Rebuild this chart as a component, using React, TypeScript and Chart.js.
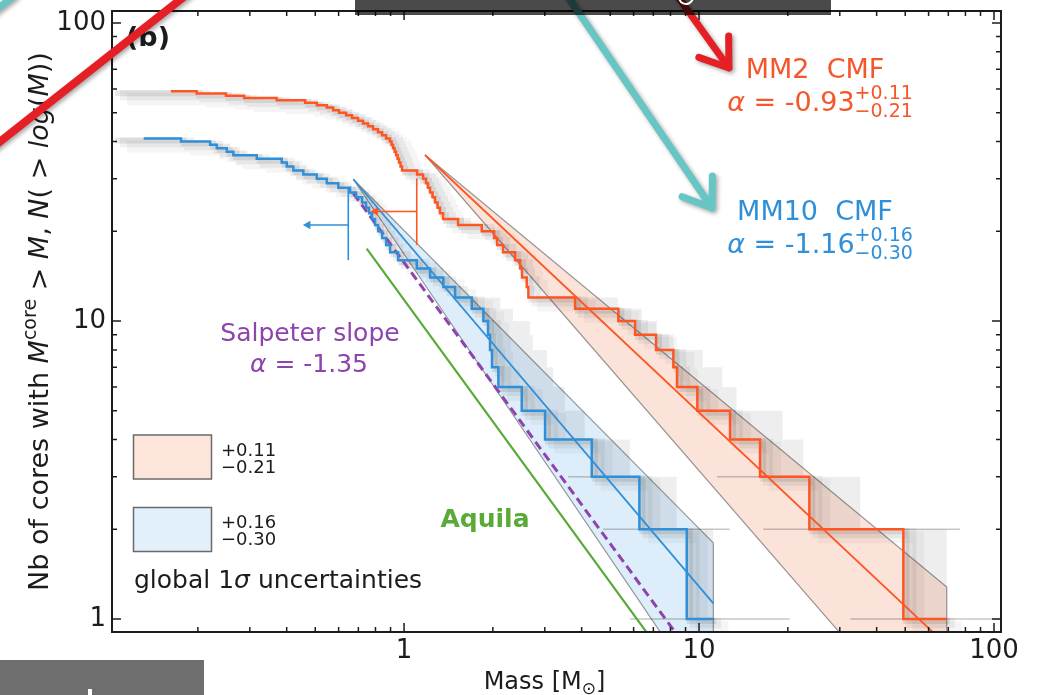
import React, { useEffect, useRef } from 'react';
import { Chart, registerables } from 'chart.js';

Chart.register(...registerables);

// ---------------- axis ranges & tick labels ----------------
const xAxisMin = 0.1023;
const xAxisMax = 105.6;
const yAxisMin = 0.9045;
const yAxisMax = 109.7;
const xTickLabels = ['1', '10', '100'];
const yTickLabels = ['1', '10', '100'];

// ---------------- MM2 cumulative core mass function ----------------
const mm2Start = 0.162;
const mm2CoreMasses = [
  0.198, 0.249, 0.287, 0.370, 0.462, 0.506, 0.547, 0.575, 0.602, 0.636,
  0.666, 0.698, 0.726, 0.755, 0.785, 0.816, 0.842, 0.869, 0.896, 0.907,
  0.918, 0.929, 0.940, 0.951, 0.962, 0.973, 0.985, 1.107, 1.160, 1.187,
  1.206, 1.225, 1.249, 1.274, 1.299, 1.324, 1.356, 1.524, 1.834, 2.019,
  2.067, 2.166, 2.378, 2.474, 2.512, 2.606, 2.639, 3.800, 5.326, 6.069,
  7.150, 8.183, 8.422, 9.868, 12.74, 16.10, 23.66, 49.27, 69.14,
];

// ---------------- MM10 cumulative core mass function ----------------
const mm10Start = 0.131;
const mm10CoreMasses = [
  0.1754, 0.2200, 0.2318, 0.2506, 0.2638, 0.3167, 0.3849, 0.4003, 0.4214, 0.4556,
  0.5059, 0.5470, 0.5987, 0.6561, 0.6877, 0.7205, 0.7434, 0.7609, 0.7791, 0.7975,
  0.8164, 0.8422, 0.8690, 0.8964, 0.9543, 1.104, 1.225, 1.359, 1.489, 1.696,
  1.857, 1.926, 1.956, 1.987, 2.088, 2.506, 3.006, 4.328, 6.277, 9.086, 11.18,
];

// ---------------- bootstrap spread (grey realisations) ----------------
const mm2EnvelopeStart = 2.639;
const mm2EnvelopeMasses = [5.3, 6.4, 7.2, 8.2, 10.3, 12.0, 13.4, 19.2, 22.6, 35.2, 76.7, 105];
const mm10EnvelopeStart = 1.489;
const mm10EnvelopeMasses = [2.12, 2.34, 2.67, 2.73, 3.05, 3.2, 3.51, 4.1, 5.83, 8.4, 12.7, 20.3];
const mm2SpreadN = [1, 2, 3, 1, 2];
const mm2SpreadFrom = [32.6, 16.5, 11.5, 69.14, 49.27];
const mm2SpreadTo = [49.27, 23.66, 16.10, 105, 76.7];
const mm10SpreadN = [1, 2, 3, 1, 2];
const mm10SpreadFrom = [5.83, 4.73, 3.6, 11.18, 9.086];
const mm10SpreadTo = [9.086, 6.277, 4.328, 20.3, 12.7];

// ---------------- power-law fits ----------------
const mm2FitMass = [1.178, 66.0];
const mm2FitN = [36.06, 0.853];
const mm10FitMass = [0.673, 11.18];
const mm10FitN = [29.9, 1.129];

// ---------------- 1-sigma uncertainty bands (closed outlines) ----------------
const mm2BandMass = [1.178, 69.14, 69.14, 50.2, 1.178];
const mm2BandN = [36.06, 1.28, 0.5, 0.5, 36.06];
const mm10BandMass = [0.673, 11.18, 11.18, 11.09, 0.673];
const mm10BandN = [29.9, 1.80, 0.5, 0.5, 29.9];

// ---------------- reference slopes ----------------
const salpeterMass = [0.673, 8.8];
const salpeterN = [26.8, 0.834];
const aquilaMass = [0.747, 7.0];
const aquilaN = [17.5, 0.84];

// ---------------- completeness markers ----------------
const mm2LimitMass = [1.104, 1.104];
const mm2LimitN = [18.0, 30.1];
const mm2ArrowMass = [1.104, 0.80];
const mm2ArrowN = [23.3, 23.3];
const mm10LimitMass = [0.647, 0.647];
const mm10LimitN = [16.0, 27.9];
const mm10ArrowMass = [0.647, 0.472];
const mm10ArrowN = [21.0, 21.0];

// ---------------- colours ----------------
const RED = '#ff5522';
const RED_TEXT = '#f4582a';
const BLUE = '#2f8fd8';
const PURPLE = '#8e44ad';
const GREEN = '#5aaa3a';
const FONT = '"DejaVu Sans", sans-serif';

function buildSteps(start: number, masses: number[]) {
  const n = masses.length;
  const pts = [{ x: start, y: n }];
  for (let i = 0; i < n - 1; i++) pts.push({ x: masses[i], y: n - 1 - i });
  pts.push({ x: masses[n - 1], y: 1 });
  return pts;
}
function zip(xs: number[], ys: number[]) {
  return xs.map((x, i) => ({ x, y: ys[i] }));
}

type Seg = { t: string; size: number; style?: string; weight?: string; dy?: number };
function fontOf(s: Seg) {
  return `${s.style || 'normal'} ${s.weight || 'normal'} ${s.size}px ${FONT}`;
}
function segsWidth(ctx: CanvasRenderingContext2D, segs: Seg[]) {
  let w = 0;
  for (const s of segs) {
    ctx.font = fontOf(s);
    w += ctx.measureText(s.t).width;
  }
  return w;
}
function drawSegs(ctx: CanvasRenderingContext2D, segs: Seg[], x: number, y: number) {
  let cx = x;
  for (const s of segs) {
    ctx.font = fontOf(s);
    ctx.fillText(s.t, cx, y + (s.dy || 0));
    cx += ctx.measureText(s.t).width;
  }
  return cx;
}
function drawAlpha(ctx: CanvasRenderingContext2D, color: string, main: string, sup: string, sub: string, cx: number, base: number, size: number) {
  ctx.fillStyle = color;
  ctx.textAlign = 'left';
  ctx.textBaseline = 'alphabetic';
  const mainSegs: Seg[] = [
    { t: 'α', size, style: 'italic' },
    { t: ' = ' + main, size },
  ];
  const small = Math.round(size * 0.7);
  const wMain = segsWidth(ctx, mainSegs);
  ctx.font = `${small}px ${FONT}`;
  const wScr = Math.max(ctx.measureText(sup).width, ctx.measureText(sub).width);
  const x0 = cx - (wMain + wScr) / 2;
  const xe = drawSegs(ctx, mainSegs, x0, base);
  ctx.font = `${small}px ${FONT}`;
  ctx.fillText(sup, xe, base - 12);
  ctx.fillText(sub, xe, base + 6);
}

function arrow(ctx: CanvasRenderingContext2D, x0: number, y0: number, x1: number, y1: number, color: string, width: number, head: boolean) {
  ctx.save();
  ctx.strokeStyle = color;
  ctx.lineWidth = width;
  ctx.lineCap = 'round';
  ctx.lineJoin = 'round';
  ctx.shadowColor = 'rgba(0,0,0,0.35)';
  ctx.shadowBlur = 4;
  ctx.shadowOffsetX = 2;
  ctx.shadowOffsetY = 2;
  ctx.beginPath();
  ctx.moveTo(x0, y0);
  ctx.lineTo(x1, y1);
  if (head) {
    const ang = Math.atan2(y1 - y0, x1 - x0);
    const L = 32;
    const a = (35 * Math.PI) / 180;
    ctx.moveTo(x1 + L * Math.cos(ang + Math.PI - a), y1 + L * Math.sin(ang + Math.PI - a));
    ctx.lineTo(x1, y1);
    ctx.lineTo(x1 + L * Math.cos(ang + Math.PI + a), y1 + L * Math.sin(ang + Math.PI + a));
  }
  ctx.stroke();
  ctx.restore();
}

const decorPlugin = {
  id: 'decor',
  beforeDatasetDraw(chart: any, args: any) {
    const ds = chart.data.datasets[args.index];
    if (ds.hazeShift) {
      chart.ctx.save();
      chart.ctx.translate(ds.hazeShift[0], ds.hazeShift[1]);
    }
  },
  afterDatasetDraw(chart: any, args: any) {
    const ds = chart.data.datasets[args.index];
    if (ds.hazeShift) chart.ctx.restore();
  },
  afterDraw(chart: any) {
    const ctx: CanvasRenderingContext2D = chart.ctx;
    const xs = chart.scales.x;
    const ys = chart.scales.y;
    const { left, right, top, bottom } = chart.chartArea;
    ctx.save();

    // frame
    ctx.strokeStyle = '#1c1c1c';
    ctx.lineWidth = 2;
    ctx.strokeRect(left, top, right - left, bottom - top);

    // inward ticks
    ctx.lineWidth = 1.5;
    ctx.beginPath();
    for (const d of [0.1, 1, 10, 100]) {
      for (let k = 1; k <= 9; k++) {
        const v = k * d;
        const len = k === 1 ? 9 : 5;
        if (v >= xAxisMin && v <= xAxisMax) {
          const px = xs.getPixelForValue(v);
          ctx.moveTo(px, bottom);
          ctx.lineTo(px, bottom - len);
          ctx.moveTo(px, top);
          ctx.lineTo(px, top + len);
        }
        if (v >= yAxisMin && v <= yAxisMax) {
          const py = ys.getPixelForValue(v);
          ctx.moveTo(left, py);
          ctx.lineTo(left + len, py);
          ctx.moveTo(right, py);
          ctx.lineTo(right - len, py);
        }
      }
    }
    ctx.stroke();

    // tick labels
    ctx.fillStyle = '#1c1c1c';
    ctx.font = `26px ${FONT}`;
    ctx.textAlign = 'center';
    ctx.textBaseline = 'middle';
    for (const l of xTickLabels) ctx.fillText(l, xs.getPixelForValue(Number(l)), bottom + 19);
    ctx.textAlign = 'right';
    for (const l of yTickLabels) ctx.fillText(l, left - 6, ys.getPixelForValue(Number(l)));

    // x title
    ctx.textAlign = 'left';
    ctx.textBaseline = 'alphabetic';
    const xt: Seg[] = [
      { t: 'Mass [M', size: 24 },
      { t: '⊙', size: 17, dy: 5 },
      { t: ']', size: 24 },
    ];
    const xcx = (left + right) / 2 - 12;
    drawSegs(ctx, xt, xcx - segsWidth(ctx, xt) / 2, 689);

    // y title
    const yt: Seg[] = [
      { t: 'Nb of cores with ', size: 27 },
      { t: 'M', size: 27, style: 'italic' },
      { t: 'core', size: 19, dy: -12 },
      { t: ' > ', size: 27 },
      { t: 'M', size: 27, style: 'italic' },
      { t: ', ', size: 27 },
      { t: 'N', size: 27, style: 'italic' },
      { t: '( > ', size: 27 },
      { t: 'log', size: 27, style: 'italic' },
      { t: '(', size: 27 },
      { t: 'M', size: 27, style: 'italic' },
      { t: '))', size: 27 },
    ];
    ctx.save();
    ctx.translate(48, (top + bottom) / 2);
    ctx.rotate(-Math.PI / 2);
    drawSegs(ctx, yt, -segsWidth(ctx, yt) / 2, 0);
    ctx.restore();

    // panel label
    ctx.font = `bold 27px ${FONT}`;
    ctx.fillText('(b)', 126, 46);

    // annotations
    ctx.textAlign = 'center';
    ctx.fillStyle = RED_TEXT;
    ctx.font = `27px ${FONT}`;
    ctx.fillText('MM2  CMF', 815, 78);
    drawAlpha(ctx, RED_TEXT, '-0.93', '+0.11', '−0.21', 820, 111, 27);
    ctx.textAlign = 'center';
    ctx.fillStyle = BLUE;
    ctx.font = `27px ${FONT}`;
    ctx.fillText('MM10  CMF', 815, 220);
    drawAlpha(ctx, BLUE, '-1.16', '+0.16', '−0.30', 820, 253, 27);

    ctx.textAlign = 'center';
    ctx.fillStyle = PURPLE;
    ctx.font = `25px ${FONT}`;
    ctx.fillText('Salpeter slope', 310, 341);
    const sal: Seg[] = [{ t: 'α', size: 25, style: 'italic' }, { t: ' = -1.35', size: 25 }];
    ctx.textAlign = 'left';
    drawSegs(ctx, sal, 309 - segsWidth(ctx, sal) / 2, 372);

    ctx.textAlign = 'center';
    ctx.fillStyle = GREEN;
    ctx.font = `bold 25px ${FONT}`;
    ctx.fillText('Aquila', 485, 527);

    // legend boxes
    ctx.lineWidth = 1.5;
    ctx.strokeStyle = '#6a6a6a';
    ctx.fillStyle = '#fde5db';
    ctx.fillRect(133.5, 435, 78, 44);
    ctx.strokeRect(133.5, 435, 78, 44);
    ctx.fillStyle = '#e2f0fb';
    ctx.fillRect(133.5, 507.5, 78, 44);
    ctx.strokeRect(133.5, 507.5, 78, 44);
    ctx.fillStyle = '#1c1c1c';
    ctx.textAlign = 'left';
    ctx.font = `18px ${FONT}`;
    ctx.fillText('+0.11', 221, 456);
    ctx.fillText('−0.21', 221, 473);
    ctx.fillText('+0.16', 221, 528);
    ctx.fillText('−0.30', 221, 545);
    const gl: Seg[] = [
      { t: 'global 1', size: 25 },
      { t: 'σ', size: 25, style: 'italic' },
      { t: ' uncertainties', size: 25 },
    ];
    drawSegs(ctx, gl, 134, 588);

    // ---------- slide overlays ----------
    arrow(ctx, 676, -6, 729, 68, '#e41f26', 7, true);
    arrow(ctx, 566, -6, 712, 208, '#67c6c3', 7, true);
    arrow(ctx, -12, 16, 14, -4, '#67c6c3', 7, false);
    arrow(ctx, -12, 151, 190, -8, '#e41f26', 8, false);

    ctx.fillStyle = 'rgba(0,0,0,0.71)';
    ctx.fillRect(355, 0, 476, 15);
    ctx.strokeStyle = '#ffffff';
    ctx.lineWidth = 2;
    ctx.beginPath();
    ctx.arc(686, -3, 7, 0.1 * Math.PI, 0.95 * Math.PI);
    ctx.stroke();

    ctx.fillStyle = '#6e6e6e';
    ctx.fillRect(0, 660, 204, 35);
    ctx.fillStyle = '#ffffff';
    ctx.fillRect(88, 689, 4, 6);

    ctx.restore();
  },
};

export default function App() {
  const ref = useRef<HTMLCanvasElement | null>(null);

  useEffect(() => {
    document.body.style.margin = '0';
    const canvas = ref.current;
    if (!canvas) return;

    const line = (data: any[], color: string, width: number, order: number, extra: any = {}) => ({
      data,
      showLine: true,
      borderColor: color,
      borderWidth: width,
      pointRadius: 0,
      fill: false,
      order,
      ...extra,
    });

    const mm2Steps = buildSteps(mm2Start, mm2CoreMasses);
    const mm10Steps = buildSteps(mm10Start, mm10CoreMasses);
    const mm2Haze = buildSteps(xAxisMin, mm2CoreMasses);
    const mm10Haze = buildSteps(xAxisMin, mm10CoreMasses);

    const datasets: any[] = [];
    const add = (d: any) => {
      datasets.push(d);
      return datasets.length - 1;
    };

    // uncertainty bands
    add(line(zip(mm2BandMass, mm2BandN), 'rgba(110,110,110,0.7)', 1.2, 30, {
      fill: 'shape',
      backgroundColor: 'rgba(250,200,180,0.5)',
    }));
    add(line(zip(mm10BandMass, mm10BandN), 'rgba(110,110,110,0.7)', 1.2, 30, {
      fill: 'shape',
      backgroundColor: 'rgba(180,215,245,0.45)',
    }));
    // bootstrap haze
    for (const h of [mm2Haze, mm10Haze]) {
      add(line(h, 'rgba(0,0,0,0.04)', 12, 22, { stepped: 'before', hazeShift: [15, 8] }));
      add(line(h, 'rgba(0,0,0,0.06)', 10, 21, { stepped: 'before', hazeShift: [8, 4] }));
      add(line(h, 'rgba(0,0,0,0.09)', 6, 20, { stepped: 'before', hazeShift: [3, 2] }));
    }
    // reference slopes
    add(line(zip(aquilaMass, aquilaN), GREEN, 2.2, 8));
    add(line(zip(salpeterMass, salpeterN), PURPLE, 3, 7, { borderDash: [9, 5] }));
    // fits
    add(line(zip(mm2FitMass, mm2FitN), RED, 1.8, 6));
    add(line(zip(mm10FitMass, mm10FitN), BLUE, 1.8, 6));
    // observed CMFs
    const iMm2 = add(line(mm2Steps, RED, 2.5, 4, { stepped: 'before' }));
    const iMm10 = add(line(mm10Steps, BLUE, 2.5, 4, { stepped: 'before' }));
    // bootstrap envelopes, shaded towards the observed CMFs
    add(line(buildSteps(mm2EnvelopeStart, mm2EnvelopeMasses), 'rgba(0,0,0,0)', 0, 18, {
      stepped: 'before',
      fill: iMm2,
      backgroundColor: 'rgba(0,0,0,0.065)',
    }));
    add(line(buildSteps(mm10EnvelopeStart, mm10EnvelopeMasses), 'rgba(0,0,0,0)', 0, 18, {
      stepped: 'before',
      fill: iMm10,
      backgroundColor: 'rgba(0,0,0,0.065)',
    }));
    mm2SpreadN.forEach((n, i) => {
      add(line([{ x: mm2SpreadFrom[i], y: n }, { x: mm2SpreadTo[i], y: n }], 'rgba(0,0,0,0.22)', 1.5, 18));
    });
    mm10SpreadN.forEach((n, i) => {
      add(line([{ x: mm10SpreadFrom[i], y: n }, { x: mm10SpreadTo[i], y: n }], 'rgba(0,0,0,0.22)', 1.5, 18));
    });
    // completeness markers
    add(line(zip(mm2LimitMass, mm2LimitN), RED, 1.6, 2));
    add(line(zip(mm2ArrowMass, mm2ArrowN), RED, 1.6, 2));
    add(line(zip(mm10LimitMass, mm10LimitN), BLUE, 1.6, 2));
    add(line(zip(mm10ArrowMass, mm10ArrowN), BLUE, 1.6, 2));
    add({
      data: [{ x: mm2ArrowMass[1], y: mm2ArrowN[1] }],
      showLine: false,
      pointStyle: 'triangle',
      rotation: -90,
      pointRadius: 5,
      pointBackgroundColor: RED,
      pointBorderWidth: 0,
      order: 1,
    });
    add({
      data: [{ x: mm10ArrowMass[1], y: mm10ArrowN[1] }],
      showLine: false,
      pointStyle: 'triangle',
      rotation: -90,
      pointRadius: 5,
      pointBackgroundColor: BLUE,
      pointBorderWidth: 0,
      order: 1,
    });

    const chart = new Chart(canvas, {
      type: 'scatter',
      data: { datasets },
      options: {
        animation: false,
        responsive: false,
        events: [],
        layout: { padding: { left: 112, right: 37, top: 11, bottom: 63 } },
        plugins: { legend: { display: false }, tooltip: { enabled: false } },
        scales: {
          x: { type: 'logarithmic', min: xAxisMin, max: xAxisMax, display: false },
          y: { type: 'logarithmic', min: yAxisMin, max: yAxisMax, display: false },
        },
      },
      plugins: [decorPlugin],
    } as any);

    return () => chart.destroy();
  }, []);

  return (
    <div style={{ width: 1038, height: 695, background: '#ffffff' }}>
      <canvas ref={ref} width={1038} height={695} style={{ display: 'block' }} />
    </div>
  );
}
